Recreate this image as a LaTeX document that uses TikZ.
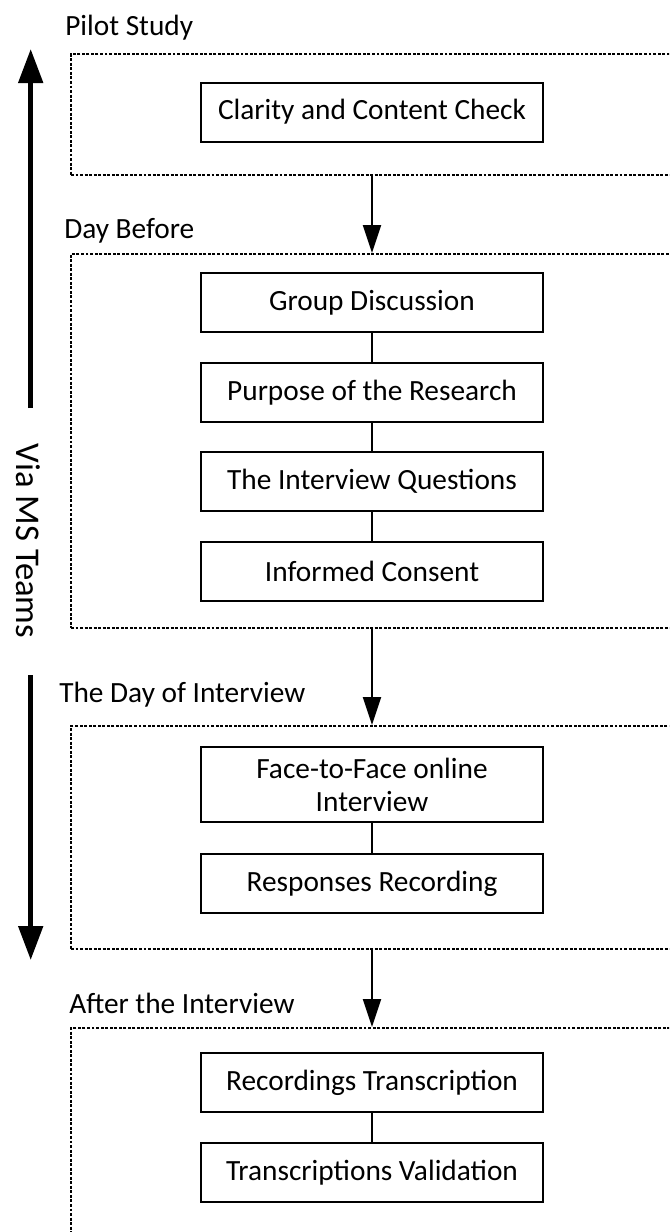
\documentclass[tikz,border=0pt]{standalone}
\usepackage{fontspec}
\setmainfont{Carlito}
\usetikzlibrary{arrows.meta}

\tikzset{
  stage/.style={draw, line width=1.5pt, dash pattern={on 2.2pt off 1.2pt}, minimum width=480pt, anchor=north west, inner sep=0pt},
  stepbox/.style={draw, line width=1.5pt, minimum width=256.5pt, minimum height=44.25pt, inner sep=0pt, align=center, font=\fontsize{22}{24.75}\selectfont},
  stagelabel/.style={anchor=base west, inner sep=0pt, font=\fontsize{22}{26}\selectfont},
  flow/.style={line width=1.5pt, -{Triangle[length=21pt,width=13.5pt]}},
  link/.style={line width=1.5pt},
  timeline/.style={line width=3.75pt, -{Triangle[length=25.5pt,width=18pt]}},
}

\begin{document}
\begin{tikzpicture}[x=0.75pt,y=0.75pt,yscale=-1,xscale=1]
\useasboundingbox (0,0) rectangle (669,1232);
\clip (0,0) rectangle (669,1232);

%Stages (dotted frames, cut at the right edge)
\node [stage, minimum height=90.75pt] (pilot) at (70,53) {};
\node [stage, minimum height=280.5pt] (daybefore) at (70,253) {};
\node [stage, minimum height=167.25pt] (dayof) at (70,725) {};
\node [stage, minimum height=200pt] (after) at (70,1027) {};

%Stage titles
\node [stagelabel] (pilotlabel) at (65,35) {Pilot Study};
\node [stagelabel] (daybeforelabel) at (64,238) {Day Before};
\node [stagelabel] (dayoflabel) at (59,702) {The Day of Interview};
\node [stagelabel] (afterlabel) at (69,1013) {After the Interview};

%Steps
\node [stepbox] (clarity) at (372,112) {Clarity and Content Check};
\node [stepbox] (group) at (372,302.5) {Group Discussion};
\node [stepbox] (purpose) at (372,392.5) {Purpose of the Research};
\node [stepbox] (questions) at (372,481) {The Interview Questions};
\node [stepbox] (consent) at (372,571) {Informed Consent};
\node [stepbox, minimum height=56.25pt] (facetoface) at (372,784.5) {Face-to-Face online\\Interview};
\node [stepbox] (responses) at (372,883.5) {Responses Recording};
\node [stepbox] (recordings) at (372,1082.5) {Recordings Transcription};
\node [stepbox] (validation) at (372,1172.5) {Transcriptions Validation};

%Straight Lines between steps
\draw [link] (group) -- (purpose);
\draw [link] (purpose) -- (questions);
\draw [link] (questions) -- (consent);
\draw [link] (facetoface) -- (responses);
\draw [link] (recordings) -- (validation);

%Arrows between stages
\draw [flow] (pilot.south -| clarity.south) -- (daybefore.north -| clarity.north);
\draw [flow] (daybefore.south -| consent.south) -- (dayof.north -| facetoface.north);
\draw [flow] (dayof.south -| responses.south) -- (after.north -| recordings.north);

%Via MS Teams, with its two arrows
\node [rotate=-90, inner sep=0pt, font=\fontsize{26}{30}\selectfont] (via) at (28,541) {Via MS Teams};
\coordinate (upfoot) at (30.7,408);
\coordinate (uptip) at (30.7,49);
\coordinate (downfoot) at (30.7,675);
\coordinate (downtip) at (30.7,960);
\draw [timeline] (upfoot) -- (uptip);
\draw [timeline] (downfoot) -- (downtip);

\end{tikzpicture}
\end{document}
